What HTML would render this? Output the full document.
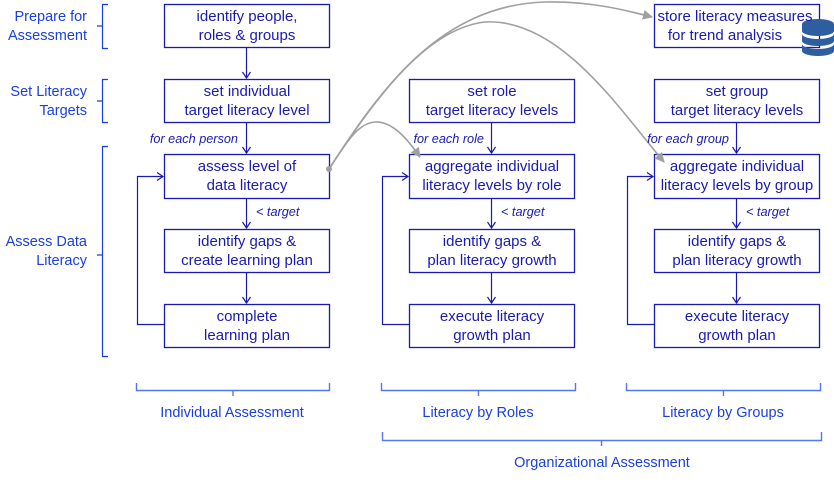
<!DOCTYPE html>
<html><head><meta charset="utf-8"><style>html,body{margin:0;padding:0;background:#fff}svg{display:block}</style></head><body>
<svg width="834" height="482" viewBox="0 0 834 482" xmlns="http://www.w3.org/2000/svg" font-family="Liberation Sans, sans-serif">
<defs>
<marker id="a" markerWidth="10" markerHeight="10" refX="7" refY="5" orient="auto" markerUnits="userSpaceOnUse"><path d="M1,1 L7,5 L1,9" fill="none" stroke="#1a1ab0" stroke-width="1.2"/></marker>
<marker id="g" markerWidth="12" markerHeight="12" refX="9" refY="5" orient="auto" markerUnits="userSpaceOnUse"><path d="M0,0 L10,5 L0,10 Z" fill="#a0a0a0"/></marker>
</defs>
<g fill="none" stroke="#1a1ab0" stroke-width="1.3">
<rect x="164.5" y="4.5" width="165" height="43"/>
<rect x="164.5" y="79.5" width="165" height="43"/>
<rect x="164.5" y="154.5" width="165" height="44"/>
<rect x="164.5" y="229.5" width="165" height="43"/>
<rect x="164.5" y="304.5" width="165" height="43"/>
<rect x="409.5" y="79.5" width="165" height="43"/>
<rect x="409.5" y="154.5" width="165" height="44"/>
<rect x="409.5" y="229.5" width="165" height="43"/>
<rect x="409.5" y="304.5" width="165" height="43"/>
<rect x="654.5" y="4.5" width="165" height="43"/>
<rect x="654.5" y="79.5" width="165" height="43"/>
<rect x="654.5" y="154.5" width="165" height="44"/>
<rect x="654.5" y="229.5" width="165" height="43"/>
<rect x="654.5" y="304.5" width="165" height="43"/>
</g>
<g fill="none" stroke="#1a1ab0" stroke-width="1.2" marker-end="url(#a)">
<path d="M246.5,48 V78"/><path d="M246.5,123 V153"/><path d="M246.5,199 V228"/><path d="M246.5,273 V303"/>
<path d="M491.5,123 V153"/><path d="M491.5,199 V228"/><path d="M491.5,273 V303"/>
<path d="M736.5,123 V153"/><path d="M736.5,199 V228"/><path d="M736.5,273 V303"/>
<path d="M164,324.5 H137.5 V176.5 H163"/>
<path d="M409,324.5 H382.5 V176.5 H408"/>
<path d="M654,324.5 H627.5 V176.5 H653"/>
</g>
<g fill="none" stroke="#1a3ee0" stroke-width="1.2">
<path d="M108,4.5 H102.5 V26 H97 M102.5,26 V48.5 H108"/>
<path d="M108,79.5 H102.5 V101 H97 M102.5,101 V122.5 H108"/>
<path d="M108,146.5 H102.5 V255 H97 M102.5,255 V356.5 H108"/>
</g>
<g fill="none" stroke="#5577ee" stroke-width="1.4">
<path d="M136.5,383 V390.5 H329.5 V383 M233,390.5 V396"/>
<path d="M381.5,383 V390.5 H575.5 V383 M478.5,390.5 V396"/>
<path d="M626.5,383 V390.5 H820.5 V383 M723.5,390.5 V396"/>
<path d="M382.5,432 V440.5 H821.5 V432 M601.5,440.5 V446"/>
</g>
<g fill="none" stroke="#a0a0a0" stroke-width="1.6">
<path d="M329,169 C380,90 440,5 545,2 C590,1 625,10 652,17" marker-end="url(#g)"/>
<path d="M329,169 C380,90 430,28 485,22 C560,18 620,110 664,162" marker-end="url(#g)"/>
<path d="M329,169 C345,145 357,123 375,122 C393,121 408,140 420,157" marker-end="url(#g)"/>
</g>
<circle cx="329" cy="169" r="3" fill="#a0a0a0"/>
<g fill="#2c5ea0">
<path d="M802,24 a16,5 0 0 1 32,0 v7 a16,5 0 0 1 -32,0 z"/>
<path d="M802,34 a16,5 0 0 0 32,0 v7 a16,5 0 0 1 -32,0 z"/>
<path d="M802,44 a16,5 0 0 0 32,0 v7 a16,5 0 0 1 -32,0 z"/>
</g>
<g fill="#1a1ab0" font-size="15" text-anchor="middle">
<text x="247" y="21">identify people,</text><text x="247" y="40">roles &amp; groups</text>
<text x="247" y="96">set individual</text><text x="247" y="115">target literacy level</text>
<text x="247" y="171">assess level of</text><text x="247" y="190">data literacy</text>
<text x="247" y="246">identify gaps &amp;</text><text x="247" y="265">create learning plan</text>
<text x="247" y="321">complete</text><text x="247" y="340">learning plan</text>
<text x="492" y="96">set role</text><text x="492" y="115">target literacy levels</text>
<text x="492" y="171">aggregate individual</text><text x="492" y="190">literacy levels by role</text>
<text x="492" y="246">identify gaps &amp;</text><text x="492" y="265">plan literacy growth</text>
<text x="492" y="321">execute literacy</text><text x="492" y="340">growth plan</text>
<text x="735" y="21">store literacy measures</text><text x="725" y="40">for trend analysis</text>
<text x="737" y="96">set group</text><text x="737" y="115">target literacy levels</text>
<text x="737" y="171">aggregate individual</text><text x="737" y="190">literacy levels by group</text>
<text x="737" y="246">identify gaps &amp;</text><text x="737" y="265">plan literacy growth</text>
<text x="737" y="321">execute literacy</text><text x="737" y="340">growth plan</text>
</g>
<g fill="#1a1ab0" font-size="12.7" font-style="italic">
<text x="238" y="143" text-anchor="end">for each person</text>
<text x="484" y="143" text-anchor="end">for each role</text>
<text x="729" y="143" text-anchor="end">for each group</text>
<text x="256" y="216">&lt; target</text>
<text x="501" y="216">&lt; target</text>
<text x="746" y="216">&lt; target</text>
</g>
<g fill="#1a3ee0" font-size="14.5">
<g text-anchor="end">
<text x="87" y="21">Prepare for</text><text x="87" y="40">Assessment</text>
<text x="87" y="96">Set Literacy</text><text x="87" y="115">Targets</text>
<text x="87" y="246">Assess Data</text><text x="87" y="265">Literacy</text>
</g>
<g text-anchor="middle">
<text x="232" y="417">Individual Assessment</text>
<text x="478" y="417">Literacy by Roles</text>
<text x="723" y="417">Literacy by Groups</text>
<text x="602" y="467">Organizational Assessment</text>
</g>
</g>
</svg>
</body></html>
